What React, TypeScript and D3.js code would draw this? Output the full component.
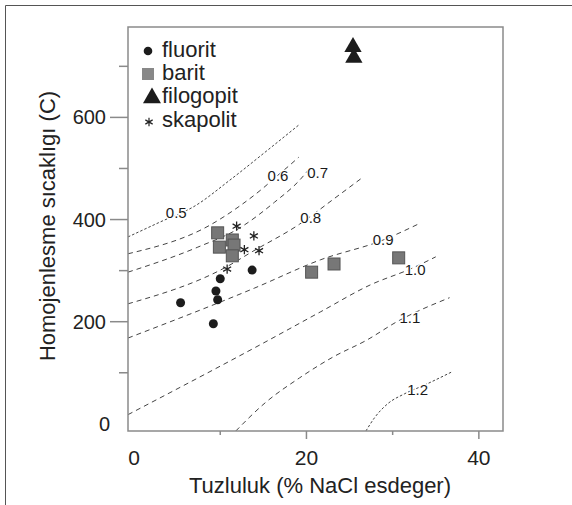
import React, { useEffect, useRef } from 'react';
import * as d3 from 'd3';

const W = 572, H = 505;
const FONT = "'Liberation Sans', Arial, Helvetica, sans-serif";

// axis ticks
const xMajor = [20, 40];
const xMinor = [10, 30];
const xLabels = [0, 20, 40];
const yMajor = [200, 400, 600];
const yMinor = [100, 300, 500, 700];
const yLabels = [0, 200, 400, 600];

// samples: [salinity wt% NaCl eq, Th C]
const fluorit = [[13.7, 301], [10.0, 284], [9.5, 260], [9.7, 243], [5.4, 237], [9.2, 196]];
const barit = [[9.7, 374], [11.4, 360], [11.6, 350], [9.9, 346], [11.4, 329], [20.6, 297], [23.2, 313], [30.7, 325]];
const filogopit = [[25.4, 738], [25.5, 717]];
const skapolit = [[11.9, 387], [13.9, 368], [12.8, 341], [14.5, 339], [10.8, 303]];

// density isochores (g/cm3)
const iso05 = [[-0.7, 366], [3.0, 395], [7.1, 427], [11.1, 477], [15.8, 540], [19.1, 585]];
const iso06 = [[-0.7, 333], [8.8, 389], [12.3, 427], [15.0, 462], [16.7, 487], [18.1, 507], [19.1, 522]];
const iso07 = [[-0.7, 297], [7.4, 346], [12.3, 384], [16.3, 434], [19.2, 477], [20.6, 505]];
const iso08 = [[-0.7, 235], [10.9, 309], [13.7, 337], [19.2, 391], [23.3, 442], [26.4, 481]];
const iso09 = [[-0.7, 168], [14.0, 266], [21.6, 321], [28.9, 360], [33.2, 393]];
const iso10 = [[-0.7, 18], [15.2, 160], [21.6, 219], [27.4, 272], [32.3, 305], [35.0, 327]];
const iso11 = [[11.8, -14], [15.2, 41], [19.2, 90], [23.1, 131], [27.0, 164], [30.5, 200], [36.6, 247]];
const iso12 = [[26.9, -14], [27.9, 12], [29.4, 39], [31.4, 59], [33.7, 76], [36.9, 102]];

const isoNames = ['0.5', '0.6', '0.7', '0.8', '0.9', '1.0', '1.1', '1.2'];
const isoLabelAt = [[4.9, 413], [16.7, 485], [21.3, 491], [20.5, 403], [28.9, 360], [32.6, 301], [32.0, 207], [32.9, 67]];

const legendNames = ['fluorit', 'barit', 'filogopit', 'skapolit'];

const draw = (el: SVGSVGElement) => {
  const svg = d3.select(el);
  svg.selectAll('*').remove();

  const x = d3.scaleLinear().domain([-0.7, 42.8]).range([128, 503]);
  const y = d3.scaleLinear().domain([-14, 777]).range([431, 27]);

  svg.append('rect').attr('width', W).attr('height', H).attr('fill', '#fff');
  // outer border of the figure
  svg.append('path').attr('d', `M5.5,${H} V5.5 H${W}`).attr('fill', 'none').attr('stroke', '#555').attr('stroke-width', 1);

  // isochores
  const curves = [iso05, iso06, iso07, iso08, iso09, iso10, iso11, iso12];
  const line = d3.line<number[]>().x(d => x(d[0])).y(d => y(d[1])).curve(d3.curveMonotoneX);
  const g = svg.append('g');
  curves.forEach((c, i) => {
    const fine = i === 0 || i === 7;
    g.append('path')
      .attr('d', line(c))
      .attr('fill', 'none')
      .attr('stroke', '#444')
      .attr('stroke-width', 1)
      .attr('stroke-dasharray', fine ? '2.5,2' : '5,4');
  });
  g.selectAll('text.iso').data(isoNames).enter().append('text')
    .attr('x', (d, i) => x(isoLabelAt[i][0]))
    .attr('y', (d, i) => y(isoLabelAt[i][1]))
    .attr('dy', '0.35em')
    .attr('text-anchor', 'middle')
    .attr('font-family', FONT)
    .attr('font-size', 15)
    .attr('fill', '#1a1a1a')
    .attr('stroke', '#fff')
    .attr('stroke-width', 2.5)
    .attr('paint-order', 'stroke')
    .text(d => d);

  // frame
  svg.append('rect').attr('x', 128).attr('y', 27).attr('width', 375).attr('height', 404)
    .attr('fill', 'none').attr('stroke', '#8a8a8a').attr('stroke-width', 1.5);

  const ax = svg.append('g').attr('stroke', '#8a8a8a').attr('stroke-width', 1.5);
  yMajor.forEach(v => ax.append('line').attr('x1', 110).attr('x2', 128).attr('y1', y(v)).attr('y2', y(v)));
  yMinor.forEach(v => ax.append('line').attr('x1', 119).attr('x2', 128).attr('y1', y(v)).attr('y2', y(v)));
  xMajor.forEach(v => ax.append('line').attr('x1', x(v)).attr('x2', x(v)).attr('y1', 431).attr('y2', 439));
  xMinor.forEach(v => ax.append('line').attr('x1', x(v)).attr('x2', x(v)).attr('y1', 431).attr('y2', 435));

  const txt = svg.append('g').attr('font-family', FONT).attr('fill', '#222');
  yLabels.forEach(v => txt.append('text')
    .attr('x', v === 0 ? 110 : 106).attr('y', y(v)).attr('dy', '0.35em')
    .attr('text-anchor', 'end').attr('font-size', 20).text(v));
  xLabels.forEach(v => txt.append('text')
    .attr('x', x(v)).attr('y', 465)
    .attr('text-anchor', 'middle').attr('font-size', 21).text(v));

  txt.append('text').attr('x', 320).attr('y', 493).attr('text-anchor', 'middle')
    .attr('font-size', 22).text('Tuzluluk (% NaCl esdeger)');
  txt.append('text').attr('transform', 'translate(55,226) rotate(-90)').attr('text-anchor', 'middle')
    .attr('font-size', 22).text('Homojenlesme sıcaklıgı (C)');

  // points
  const pts = svg.append('g');
  pts.selectAll('circle').data(fluorit).enter().append('circle')
    .attr('cx', d => x(d[0])).attr('cy', d => y(d[1])).attr('r', 4.5).attr('fill', '#1c1c1c');
  pts.selectAll('rect').data(barit).enter().append('rect')
    .attr('x', d => x(d[0]) - 6).attr('y', d => y(d[1]) - 6).attr('width', 12).attr('height', 12)
    .attr('fill', '#777').attr('stroke', '#555').attr('stroke-width', 1);
  const tri = d3.symbol().type(d3.symbolTriangle).size(130);
  pts.selectAll('path.tri').data(filogopit).enter().append('path')
    .attr('transform', d => `translate(${x(d[0])},${y(d[1])})`).attr('d', tri()).attr('fill', '#1c1c1c');
  const ast = d3.symbol().type(d3.symbolAsterisk).size(60);
  pts.selectAll('path.ast').data(skapolit).enter().append('path')
    .attr('transform', d => `translate(${x(d[0])},${y(d[1])})`).attr('d', ast())
    .attr('fill', 'none').attr('stroke', '#222').attr('stroke-width', 1.3);

  // legend
  const lg = svg.append('g');
  const rows = [51, 74, 97, 121];
  lg.append('circle').attr('cx', 148).attr('cy', rows[0]).attr('r', 4.3).attr('fill', '#1c1c1c');
  lg.append('rect').attr('x', 142).attr('y', rows[1] - 6).attr('width', 12).attr('height', 12).attr('fill', '#888');
  lg.append('path').attr('transform', `translate(152,${rows[2] + 1})`)
    .attr('d', d3.symbol().type(d3.symbolTriangle).size(140)()).attr('fill', '#1c1c1c');
  lg.append('path').attr('transform', `translate(149,${rows[3] + 1})`)
    .attr('d', d3.symbol().type(d3.symbolAsterisk).size(50)()).attr('fill', 'none').attr('stroke', '#222').attr('stroke-width', 1.2);
  lg.selectAll('text').data(legendNames).enter().append('text')
    .attr('x', 162).attr('y', (d, i) => rows[i] + 6)
    .attr('font-family', FONT).attr('font-size', 22).attr('fill', '#222')
    .text(d => d);
};

export default function App() {
  const ref = useRef<SVGSVGElement>(null);
  useEffect(() => {
    if (ref.current) draw(ref.current);
  }, []);
  return (
    <svg ref={ref} width={W} height={H}
      style={{ position: 'absolute', left: 0, top: 0, display: 'block' }} />
  );
}
